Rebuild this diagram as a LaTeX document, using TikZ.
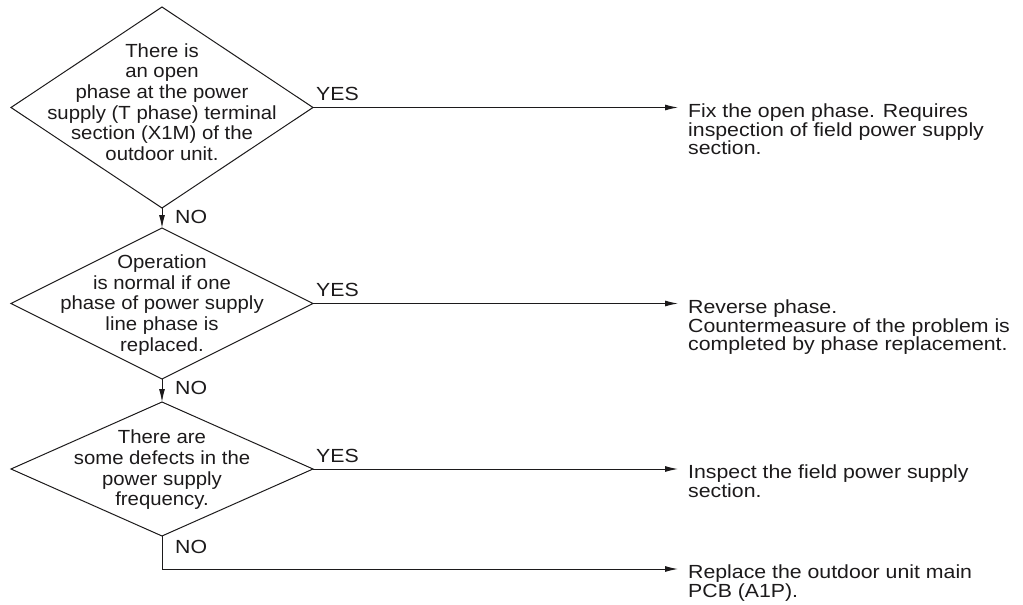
\documentclass[tikz,border=0pt]{standalone}
\usepackage{fontspec}
\setmainfont{Liberation Sans}
\newfontfamily\dfont{Liberation Sans}[FakeStretch=1.07]
\newfontfamily\rfont{Liberation Sans}[FakeStretch=1.12]
\usetikzlibrary{shapes.geometric,arrows.meta}
\definecolor{ink}{HTML}{1C1A1B}
\begin{document}
\begin{tikzpicture}[x=1pt,y=-1pt,
  decision/.style={draw=ink, line width=1pt, diamond, inner sep=0pt, outer sep=0pt},
  dtext/.style={text=ink, align=center, inner sep=0pt, font=\dfont\fontsize{19}{20.7}\selectfont},
  rtext/.style={text=ink, align=left, inner sep=0pt, anchor=north west, font=\rfont\fontsize{19}{18.3}\selectfont},
  lbl/.style={text=ink, inner sep=0pt, font=\rfont\fontsize{19}{19}\selectfont},
  conn/.style={draw=ink, line width=1pt},
  arr/.style={conn, -{Latex[length=13pt,width=6pt]}}]
\useasboundingbox (0,0) rectangle (1023,605);
% decisions
\node[decision, minimum width=302pt, minimum height=201pt] (d1) at (162,107.5) {};
\node[dtext] (t1) at (162,102) {There is\\an open\\phase at the power\\supply (T phase) terminal\\section (X1M) of the\\outdoor unit.};
\node[decision, minimum width=302pt, minimum height=151pt] (d2) at (162,303.5) {};
\node[dtext] (t2) at (162,305) {Operation\\is normal if one\\phase of power supply\\line phase is\\replaced.};
\node[decision, minimum width=302pt, minimum height=134pt] (d3) at (162,469) {};
\node[dtext] (t3) at (162,470) {There are\\some defects in the\\power supply\\frequency.};
% results
\node[rtext] (r1) at (688,103.8) {Fix the open phase. Requires\\inspection of field power supply\\section.};
\node[rtext] (r2) at (688,300) {Reverse phase.\\Countermeasure of the problem is\\completed by phase replacement.};
\node[rtext] (r3) at (688,465) {Inspect the field power supply\\section.};
\node[rtext] (r4) at (688,565) {Replace the outdoor unit main\\PCB (A1P).};
% arrow ends
\coordinate (e1) at (678,107.5);
\coordinate (e2) at (678,303.5);
\coordinate (e3) at (678,469);
\coordinate (e4) at (678,569);
% connectors
\draw[arr] (d1.east) -- (e1);
\draw[arr] (d2.east) -- (e2);
\draw[arr] (d3.east) -- (e3);
\draw[arr] (d3.south) |- (e4);
\draw[arr] (d1.south) -- (d2.north);
\draw[arr] (d2.south) -- (d3.north);
% labels
\node[lbl, anchor=base west] (y1) at ([xshift=3pt,yshift=6.6pt]d1.east) {YES};
\node[lbl, anchor=base west] (y2) at ([xshift=3pt,yshift=6.6pt]d2.east) {YES};
\node[lbl, anchor=base west] (y3) at ([xshift=3pt,yshift=6.6pt]d3.east) {YES};
\node[lbl, anchor=base west] (n1) at ([xshift=13pt,yshift=-15pt]d1.south) {NO};
\node[lbl, anchor=base west] (n2) at ([xshift=13pt,yshift=-15pt]d2.south) {NO};
\node[lbl, anchor=base west] (n3) at ([xshift=13pt,yshift=-17pt]d3.south) {NO};
\end{tikzpicture}
\end{document}
